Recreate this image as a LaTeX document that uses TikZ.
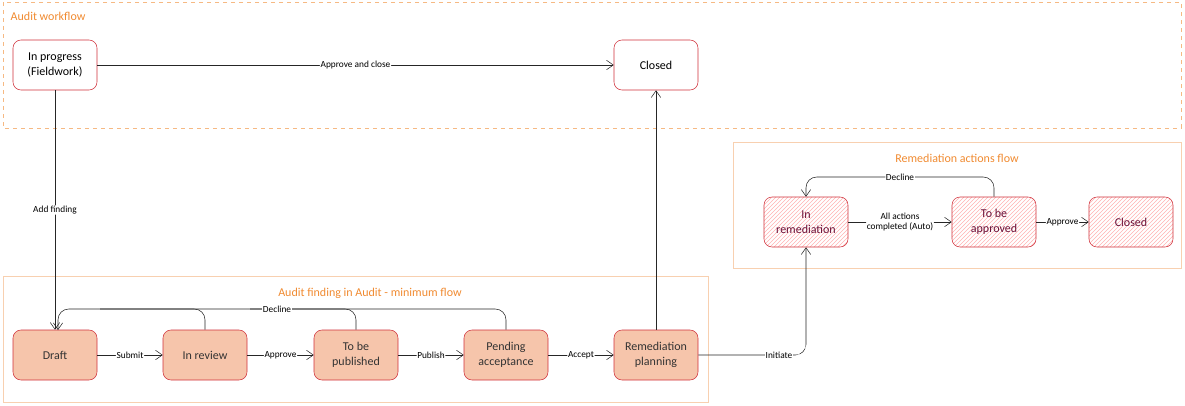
\documentclass[tikz,border=0pt]{standalone}
\usepackage{fontspec}
\setmainfont{Carlito}
\usetikzlibrary{arrows.meta,patterns}
\definecolor{bord}{HTML}{D0303A}
\definecolor{fillc}{HTML}{F6C5AB}
\definecolor{grp}{HTML}{F8D0B0}
\definecolor{ttl}{HTML}{F08A30}
\definecolor{txt}{HTML}{6A1038}
\begin{document}
\begin{tikzpicture}[x=0.75pt,y=-0.75pt,
  st/.style={draw=bord,rounded corners=6pt,minimum width=63pt,minimum height=37.5pt,align=center,font=\fontsize{9}{11}\selectfont,inner sep=1pt},
  wh/.style={st,fill=white},
  fl/.style={st,fill=fillc,text=black!80},
  ht/.style={st,pattern=north east lines,pattern color=red!30,text=txt},
  ar/.style={draw=black!85,-{Straight Barb[length=5pt,width=7pt]},rounded corners=8pt},
  lb/.style={font=\fontsize{7}{8}\selectfont,fill=white,inner sep=0.5pt},
  gt/.style={text=ttl,font=\fontsize{9}{11}\selectfont,anchor=west}]
\useasboundingbox (0,0) rectangle (1185,405);
\draw[ttl!60,dashed] (3,2) rectangle (1181,128);
\node[gt] (t1) at (6,16) {Audit workflow};
\draw[grp] (3,276) rectangle (708,402);
\node[text=ttl,font=\fontsize{9}{11}\selectfont] (t2) at (370,293) {Audit finding in Audit - minimum flow};
\draw[grp] (733,142) rectangle (1181,268);
\node[text=ttl,font=\fontsize{9}{11}\selectfont] (t3) at (957,158) {Remediation actions flow};

\node[wh] (ip) at (55,65) {In progress\\(Fieldwork)};
\node[wh] (cl) at (656,65) {Closed};
\node[fl] (dr) at (55,355) {Draft};
\node[fl] (rv) at (205,355) {In review};
\node[fl] (tp) at (356,355) {To be\\published};
\node[fl] (pa) at (506,355) {Pending\\acceptance};
\node[fl] (rp) at (656,355) {Remediation\\planning};
\node[ht] (ir) at (806,222) {In\\remediation};
\node[ht] (ta) at (994,222) {To be\\approved};
\node[ht] (cr) at (1131,222) {Closed};

\draw[ar] (ip) -- node[lb]{Approve and close} (cl);
\draw[ar] (ip) -- node[lb]{Add finding} (dr);
\draw[ar] (dr) -- node[lb]{Submit} (rv);
\draw[ar] (rv) -- node[lb]{Approve} (tp);
\draw[ar] (tp) -- node[lb]{Publish} (pa);
\draw[ar] (pa) -- node[lb]{Accept} (rp);
\draw[ar] (rp) -- (cl);
\coordinate (dtop) at (58,330);
\draw[ar] (pa.north) -- (506,309) -- (58,309) -- (dtop);
\draw[draw=black!85,rounded corners=8pt] (rv.north) -- (205,309) -- (100,309);
\draw[draw=black!85,rounded corners=8pt] (tp.north) -- (356,309) -- (250,309);
\node[lb] (dl) at (277,309) {Decline};
\draw[ar] (rp.east) -- (806,355) -- node[lb,pos=0]{}(ir.south);
\node[lb] (in) at (779,355) {Initiate};
\draw[ar] (ir) -- node[lb,align=center]{All actions\\completed (Auto)} (ta);
\draw[ar] (ta) -- node[lb]{Approve} (cr);
\draw[ar] (ta.north) -- (994,177) -- node[lb]{Decline} (806,177) -- (ir.north);
\end{tikzpicture}
\end{document}
